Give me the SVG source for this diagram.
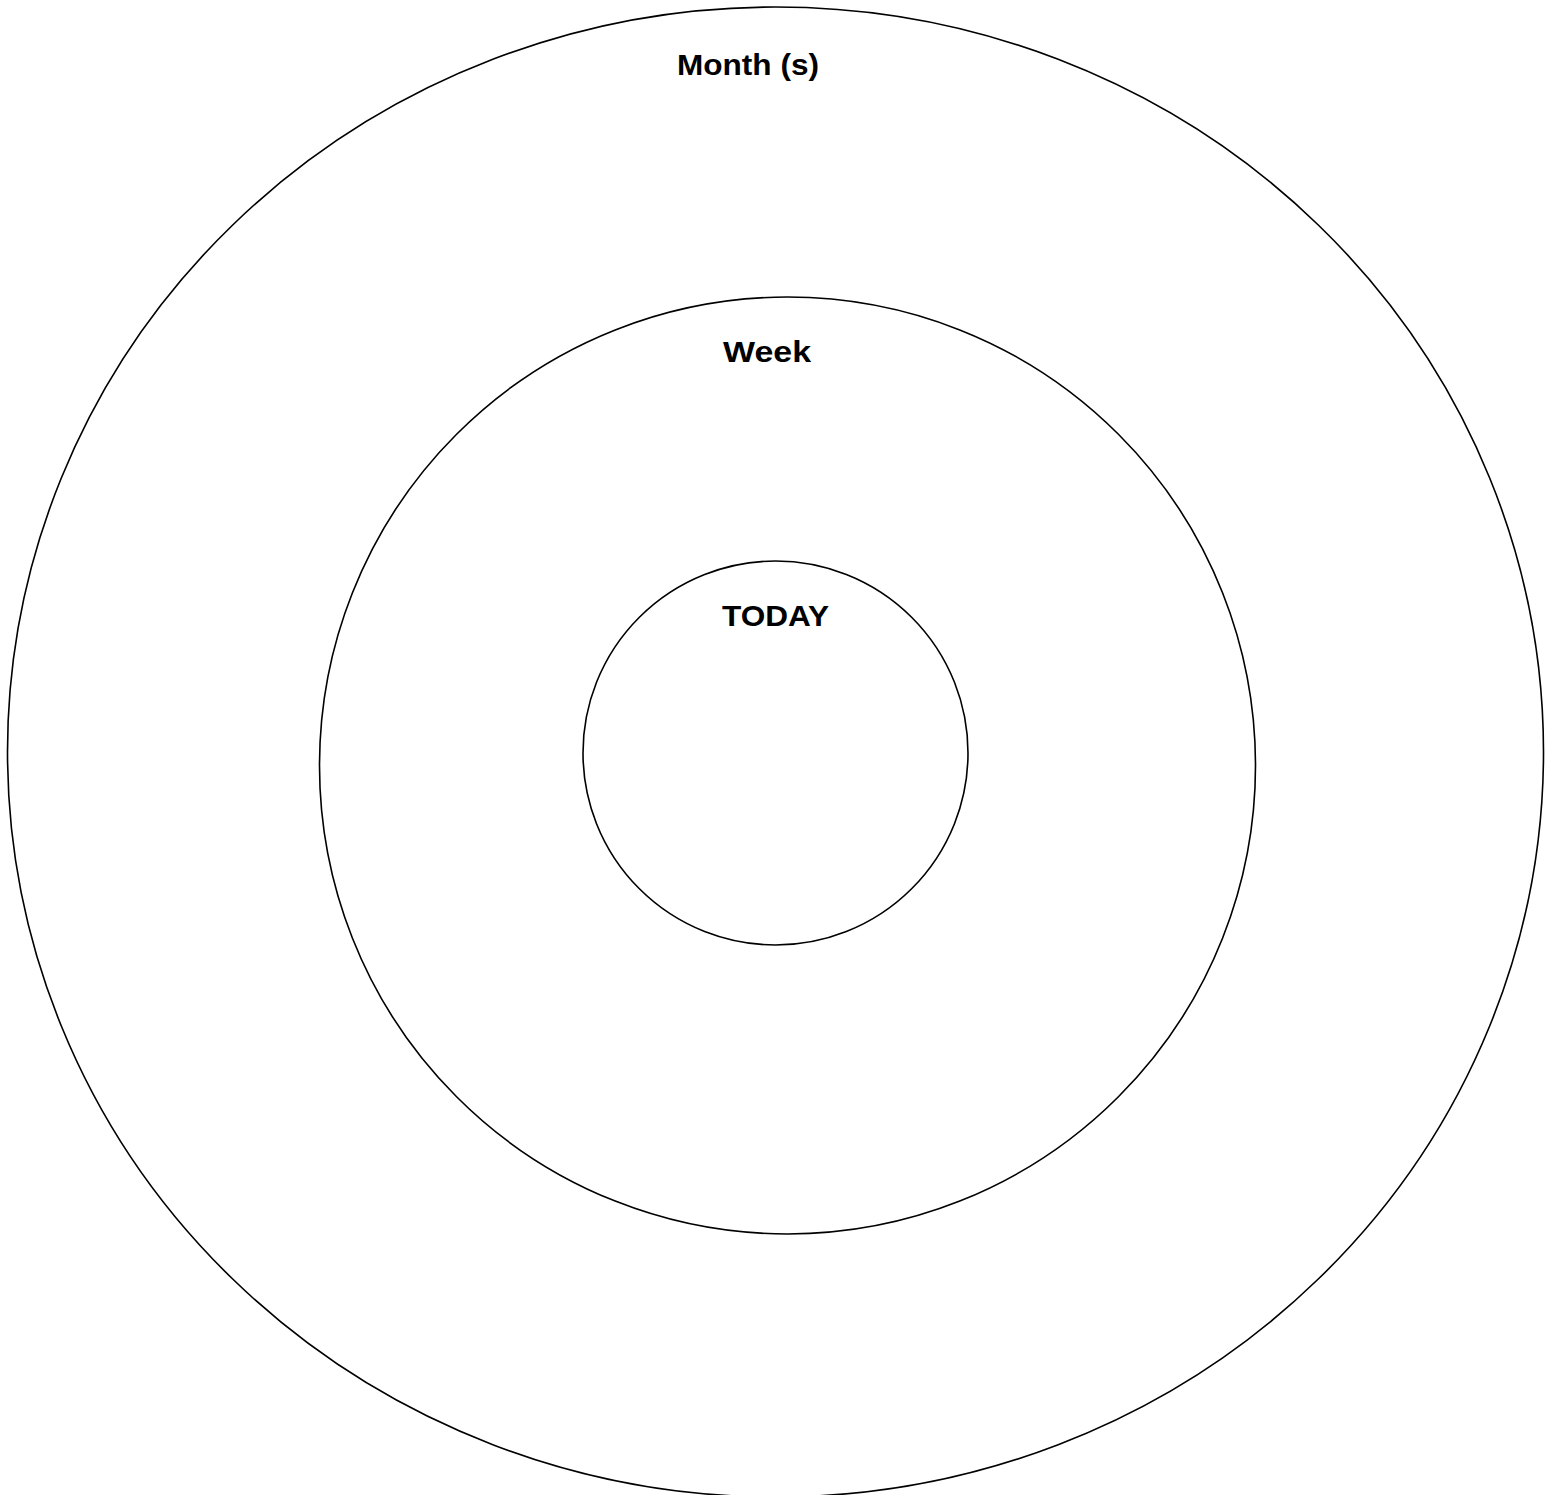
<svg xmlns="http://www.w3.org/2000/svg" width="1551" height="1495" viewBox="0 0 1551 1495">
<style>
.ring{fill:none;stroke:#000;stroke-width:1.6}
.lbl{font-family:"Liberation Sans",Arial,sans-serif;font-weight:bold;font-size:30px;fill:#000;text-anchor:middle}
</style>
<rect width="1551" height="1495" fill="#fff"/>
<g id="month">
<ellipse class="ring" cx="775.5" cy="752" rx="768" ry="745"/>
<text class="lbl" x="748" y="75" textLength="142" lengthAdjust="spacingAndGlyphs">Month (s)</text>
</g>
<g id="week">
<ellipse class="ring" cx="787.5" cy="765.5" rx="468" ry="468.5"/>
<text class="lbl" x="767" y="362" textLength="88" lengthAdjust="spacingAndGlyphs">Week</text>
</g>
<g id="today">
<ellipse class="ring" cx="775.5" cy="753" rx="192.5" ry="192"/>
<text class="lbl" x="775.5" y="626" textLength="107" lengthAdjust="spacingAndGlyphs">TODAY</text>
</g>
<g id="connectors"></g>
</svg>
